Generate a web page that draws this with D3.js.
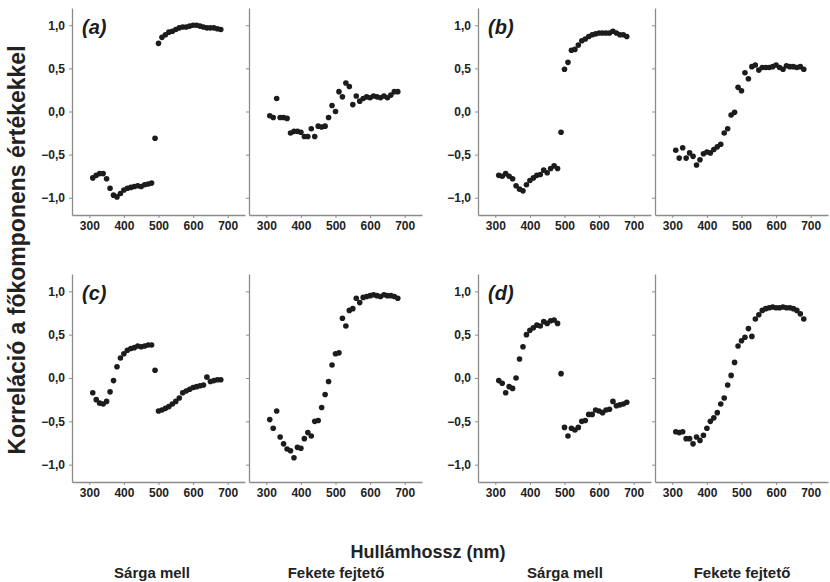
<!DOCTYPE html>
<html><head><meta charset="utf-8">
<script src="https://cdn.jsdelivr.net/npm/d3@7"></script>
<style>body{margin:0;background:#fff}svg{display:block}text{font-family:"Liberation Sans",Arial,sans-serif}</style>
</head><body><svg id="c" width="830" height="582"></svg>
<script>
const wavelengths = [310,320,330,340,350,360,370,380,390,400,410,420,430,440,450,460,470,480,490,500,510,520,530,540,550,560,570,580,590,600,610,620,630,640,650,660,670,680];
const xTicks = [300,400,500,600,700];
const yTicks = [-1.0,-0.5,0.0,0.5,1.0];
const panelLetters = ["(a)","(b)","(c)","(d)"];
const speciesLabels = ["Sárga mell","Fekete fejtető"];
const yTitle = "Korreláció a főkomponens értékekkel";
const xTitle = "Hullámhossz (nm)";

const aYellow = [-0.77,-0.74,-0.72,-0.72,-0.78,-0.89,-0.97,-0.99,-0.95,-0.91,-0.89,-0.88,-0.87,-0.86,-0.87,-0.85,-0.84,-0.83,-0.31,0.79,0.86,0.89,0.92,0.93,0.95,0.97,0.98,0.98,0.99,1.00,1.00,0.99,0.98,0.97,0.97,0.97,0.96,0.95];
const aBlack = [-0.05,-0.07,0.15,-0.07,-0.07,-0.08,-0.25,-0.23,-0.23,-0.24,-0.29,-0.29,-0.20,-0.29,-0.17,-0.18,-0.17,-0.07,0.07,0.00,0.23,0.17,0.33,0.29,0.08,0.18,0.12,0.15,0.17,0.16,0.18,0.17,0.16,0.18,0.16,0.19,0.23,0.23];
const bYellow = [-0.74,-0.75,-0.72,-0.75,-0.78,-0.86,-0.90,-0.92,-0.85,-0.80,-0.77,-0.74,-0.73,-0.68,-0.71,-0.66,-0.63,-0.66,-0.24,0.49,0.57,0.71,0.72,0.77,0.82,0.84,0.87,0.89,0.90,0.91,0.91,0.91,0.91,0.93,0.91,0.89,0.89,0.87];
const bBlack = [-0.45,-0.54,-0.42,-0.54,-0.48,-0.52,-0.62,-0.56,-0.49,-0.47,-0.48,-0.44,-0.41,-0.38,-0.25,-0.20,-0.04,-0.01,0.28,0.24,0.45,0.38,0.52,0.54,0.48,0.51,0.51,0.51,0.52,0.54,0.51,0.49,0.53,0.52,0.52,0.51,0.52,0.49];
const cYellow = [-0.17,-0.25,-0.29,-0.30,-0.27,-0.16,-0.03,0.13,0.23,0.28,0.32,0.34,0.35,0.37,0.36,0.37,0.38,0.38,0.09,-0.38,-0.37,-0.35,-0.33,-0.30,-0.27,-0.23,-0.17,-0.15,-0.13,-0.11,-0.10,-0.09,-0.08,0.01,-0.04,-0.03,-0.02,-0.02];
const cBlack = [-0.48,-0.58,-0.38,-0.68,-0.76,-0.82,-0.84,-0.92,-0.80,-0.81,-0.70,-0.63,-0.67,-0.50,-0.49,-0.34,-0.19,-0.04,0.15,0.28,0.29,0.69,0.60,0.78,0.80,0.92,0.87,0.93,0.94,0.95,0.96,0.95,0.94,0.96,0.95,0.95,0.94,0.92];
const dYellow = [-0.03,-0.06,-0.17,-0.10,-0.12,0.00,0.22,0.36,0.50,0.55,0.58,0.61,0.60,0.65,0.63,0.66,0.67,0.63,0.05,-0.57,-0.67,-0.58,-0.60,-0.57,-0.50,-0.49,-0.42,-0.42,-0.37,-0.38,-0.40,-0.37,-0.36,-0.27,-0.32,-0.31,-0.30,-0.28];
const dBlack = [-0.62,-0.63,-0.62,-0.70,-0.70,-0.76,-0.68,-0.72,-0.66,-0.58,-0.50,-0.46,-0.40,-0.30,-0.23,-0.08,0.03,0.18,0.37,0.43,0.47,0.57,0.48,0.68,0.73,0.78,0.80,0.81,0.82,0.81,0.81,0.82,0.81,0.81,0.80,0.78,0.74,0.68];

const groups = [
  {letter: panelLetters[0], series: [aYellow, aBlack], col: 0, row: 0},
  {letter: panelLetters[1], series: [bYellow, bBlack], col: 1, row: 0},
  {letter: panelLetters[2], series: [cYellow, cBlack], col: 0, row: 1},
  {letter: panelLetters[3], series: [dYellow, dBlack], col: 1, row: 1}
];

const svg = d3.select("#c");
const groupLeft = [72, 478];
const panelW = 173, panelGap = 4;
const rowRange = [[215, 8], [482, 274]];
const axisColor = "#8c8c8c";
const fmt = v => d3.format(".1f")(v).replace(".", ",");

groups.forEach(g => {
  const yr = rowRange[g.row];
  const y = d3.scaleLinear().domain([-1.2, 1.2]).range(yr);
  g.series.forEach((vals, si) => {
    const x0 = groupLeft[g.col] + si * (panelW + panelGap);
    const x = d3.scaleLinear().domain([250, 750]).range([x0, x0 + panelW]);
    const p = svg.append("g");
    const xa = p.append("g").attr("transform", `translate(0,${yr[0]})`)
      .call(d3.axisBottom(x).tickValues(xTicks).tickSize(3).tickSizeOuter(0).tickPadding(3));
    const ya = p.append("g").attr("transform", `translate(${x0},0)`)
      .call(d3.axisLeft(y).tickValues(yTicks).tickSize(3).tickSizeOuter(0).tickPadding(4).tickFormat(si === 0 ? fmt : ""));
    [xa, ya].forEach(a => {
      a.select(".domain").attr("stroke", axisColor).attr("stroke-width", 1.3);
      a.selectAll(".tick line").attr("stroke", axisColor);
      a.selectAll(".tick text").attr("fill", "#222").attr("font-size", 12).attr("font-weight", "bold")
        .attr("font-family", '"Liberation Sans", Arial, sans-serif');
    });
    p.append("g").selectAll("circle").data(vals).join("circle")
      .attr("cx", (d, i) => x(wavelengths[i]))
      .attr("cy", d => y(d))
      .attr("r", 2.8)
      .attr("fill", "#1c1c1c");
    if (si === 0) {
      p.append("text").attr("x", x0 + 10).attr("y", yr[1] + 26)
        .attr("font-size", 20).attr("font-weight", "bold").attr("font-style", "italic")
        .attr("fill", "#1c1c1c").text(g.letter);
    }
  });
});

svg.append("text").attr("transform", "translate(25,250) rotate(-90)")
  .attr("text-anchor", "middle").attr("font-size", 23).attr("font-weight", "bold").attr("fill", "#222").text(yTitle);
svg.append("text").attr("x", 428).attr("y", 558)
  .attr("text-anchor", "middle").attr("font-size", 18).attr("font-weight", "bold").attr("fill", "#222").text(xTitle);
const labelCenters = [152, 336, 565, 742];
labelCenters.forEach((cx, i) => {
  svg.append("text").attr("x", cx).attr("y", 578).attr("text-anchor", "middle")
    .attr("font-size", 15).attr("font-weight", "bold").attr("fill", "#222").text(speciesLabels[i % 2]);
});
</script></body></html>
